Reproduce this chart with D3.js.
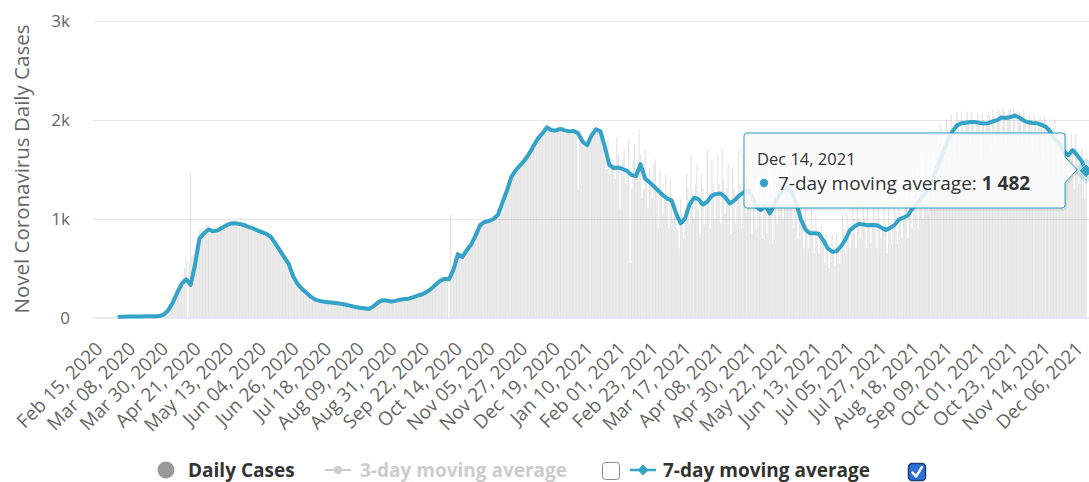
<!DOCTYPE html>
<html><head><meta charset="utf-8">
<script src="https://cdn.jsdelivr.net/npm/d3@7"></script>
<style>
body{margin:0;background:#fff;}
svg{display:block;font-family:"Open Sans",sans-serif;}
</style>
</head><body>
<svg id="chart" width="1089" height="482"></svg>
<script>
// ---------------- DATA ----------------
const dailyStart = "2020-02-15";
const dailyCases = [
0,0,0,0,0,0,0,
0,0,0,0,0,1,0,
2,5,8,10,12,9,11,
8,10,12,9,11,14,10,
11,9,12,14,10,13,12,
10,14,12,11,15,13,12,
12,16,14,18,35,48,60,
70,95,130,160,200,220,250,
240,300,350,330,420,500,600,
0,560,1470,620,640,700,760,
820,880,900,860,850,900,940,
860,840,900,880,920,870,890,
900,950,910,940,960,900,930,
960,940,980,950,930,970,950,
940,920,950,930,960,910,925,
900,880,910,870,890,860,880,
860,840,850,830,850,810,820,
790,760,740,720,700,690,660,
640,620,590,560,540,510,480,
440,400,370,340,330,310,300,
280,260,250,230,220,210,200,
190,180,175,170,165,170,160,
165,150,160,155,150,158,148,
150,140,145,138,142,135,140,
130,125,120,115,118,110,112,
108,102,98,95,100,92,96,
90,88,85,82,95,120,140,
150,165,180,190,175,170,185,
170,165,160,175,158,170,162,
172,180,185,178,190,185,192,
190,195,205,200,210,215,220,
225,230,240,235,250,255,265,
270,280,295,310,320,340,350,
360,375,390,400,395,410,405,
380,0,1050,470,500,560,600,
620,640,650,660,680,700,690,
720,740,780,800,830,860,880,
920,940,960,980,970,960,990,
980,1000,1010,990,1020,1040,1080,
1120,1170,1220,1260,1300,1340,1380,
1400,1430,1450,1480,1500,1510,1530,
1540,1560,1590,1620,1640,1660,1680,
1700,1740,1770,1800,1830,1850,1870,
1880,1900,1930,1920,1950,1910,1890,
1870,1900,1920,1880,1910,1890,1900,
1910,1880,1860,1900,1880,1870,1890,
1880,1870,1890,1860,1290,1800,1820,
1750,1720,1700,1740,1760,1850,1900,
1880,1920,1900,1950,1880,1850,1800,
1700,1600,1500,1800,1450,1520,1600,
1550,1400,1820,1650,1100,1480,1600,
1700,1350,1500,1800,550,1300,1600,
1750,1500,1400,1900,1650,1200,1300,
1700,1450,1100,1500,1350,1200,1550,
1600,1300,900,1500,1250,1050,1200,
1450,1200,900,1400,1250,1000,1150,
1150,900,700,1200,1050,800,1100,
1450,1300,950,1650,1250,1000,1350,
1550,1100,850,1450,1300,950,1200,
1700,1250,900,1600,1350,1000,1250,
1650,1350,950,1700,1400,1050,1300,
1550,1200,850,1500,1300,950,1250,
1700,1350,900,1650,1400,1050,1300,
1600,1300,850,1450,1200,900,1150,
1450,1150,800,1400,1150,850,1100,
1350,1100,750,1550,1300,950,1250,
1650,1450,1000,1700,1450,1100,1350,
1550,1300,900,1400,1100,800,1050,
1150,950,700,1100,900,700,850,
1100,900,650,1050,900,650,800,
950,800,550,850,700,500,650,
850,720,520,850,700,550,700,
1050,900,650,1050,850,700,850,
1150,1000,700,1200,1000,800,950,
1200,1000,700,1150,950,750,950,
1150,950,700,1150,950,800,900,
1100,950,650,1150,950,750,950,
1250,1050,750,1250,1000,800,1000,
1350,1150,800,1350,1100,900,1100,
1500,1300,900,1500,1250,1000,1250,
1650,1450,1050,1700,1450,1150,1400,
1900,1700,1300,1950,1700,1400,1650,
2000,1900,1500,2050,1900,1650,1880,
2080,2000,1600,2080,2000,1700,1980,
2080,2000,1600,2080,2000,1750,1980,
2060,2000,1600,2060,2000,1700,1950,
2080,2050,1650,2100,2050,1750,2000,
2100,2080,1700,2120,2080,1750,2050,
2100,2100,1700,2120,2080,1800,2050,
2080,2050,1650,2100,2030,1750,2000,
2060,2000,1650,2050,2000,1700,1950,
2020,1980,1600,2040,1970,1650,1900,
1950,1850,1450,2000,1850,1550,1800,
1850,1700,1300,1900,1700,1400,1650,
1850,1700,1300,1850,1700,1350,1600,
1700,1550,1200,1400
];

const avgStart = "2020-03-03";
const avgStepDays = 3;
const avg7 = [
8,8,9,10,10,11,12,12,13,15,
30,75,150,250,340,385,330,530,800,850,
890,870,880,905,930,950,952,945,932,915,
900,880,862,845,815,750,680,610,545,420,
340,290,250,210,180,168,160,155,150,143,
137,128,117,106,98,93,86,110,150,175,
172,162,168,180,187,190,205,222,235,258,
290,330,370,392,385,480,640,610,680,740,
830,933,965,975,995,1040,1160,1280,1420,1490,
1540,1590,1655,1735,1810,1860,1920,1892,1890,1905,
1890,1880,1885,1860,1775,1740,1840,1900,1880,1720,
1540,1510,1515,1500,1480,1438,1430,1550,1405,1365,
1325,1280,1235,1200,1180,1050,950,1000,1140,1210,
1195,1140,1170,1230,1248,1253,1215,1152,1180,1225,
1260,1285,1230,1118,1085,1130,1050,1135,1230,1300,
1315,1260,1150,990,890,850,850,845,782,700,
664,670,720,790,883,920,945,940,932,935,
933,910,883,905,933,990,1010,1030,1100,1150,
1200,1260,1320,1450,1560,1680,1790,1880,1940,1962,
1968,1975,1975,1966,1960,1962,1980,1993,2020,2015,
2025,2040,2020,1990,1972,1965,1962,1945,1925,1875,
1800,1757,1680,1640,1690,1640,1580,1482
];

const yTickValues = [0, 1000, 2000, 3000];
const xTickFirst = "2020-02-15";
const xTickStepDays = 22;
const xTickCount = 31;
const yAxisTitle = "Novel Coronavirus Daily Cases";
const legendLabels = ["Daily Cases", "3-day moving average", "7-day moving average"];
const seriesName = "7-day moving average";

// ---------------- SETUP ----------------
const svg = d3.select("#chart");
const blue = "#34a3c8";
const parse = d3.utcParse("%Y-%m-%d");
const day = 864e5;

const plotLeft = 93, plotRight = 1089;
const x = d3.scaleUtc()
  .domain([new Date(Date.UTC(2020,1,14,12)), new Date(Date.UTC(2021,11,15,12))])
  .range([93.3, 1088.3]);
const y = d3.scaleLinear().domain([0, 3000]).range([317.5, 20.5]);

// grid
const grid = svg.append("g");
grid.selectAll("line").data(yTickValues.filter(v => v > 0)).join("line")
  .attr("x1", plotLeft).attr("x2", plotRight)
  .attr("y1", d => Math.round(y(d)) + 0.5).attr("y2", d => Math.round(y(d)) + 0.5)
  .attr("stroke", "#e6e6e6").attr("stroke-width", 1);

// y axis labels
const kfmt = v => v === 0 ? "0" : (v / 1000) + "k";
const yAxis = d3.axisLeft(y).tickValues(yTickValues).tickFormat(kfmt).tickSize(0).tickPadding(0);
const yg = svg.append("g").attr("transform", "translate(70,0)").call(yAxis);
yg.select(".domain").remove();
yg.selectAll("text").attr("fill", "#666").style("font-size", "17px")
  .style("font-family", '"Open Sans",sans-serif').attr("dy", "0.35em");

// y title
svg.append("text")
  .attr("transform", "translate(28.5,169) rotate(-90)")
  .attr("text-anchor", "middle")
  .attr("fill", "#666").style("font-size", "20.5px")
  .text(yAxisTitle);

// bars
const d0 = parse(dailyStart);
const barData = dailyCases.map((v, i) => ({date: new Date(+d0 + i * day), v}));
const bw = 1.3;
svg.append("g").selectAll("rect").data(barData).join("rect")
  .attr("x", d => x(d.date) - bw / 2)
  .attr("width", bw)
  .attr("y", d => y(d.v))
  .attr("height", d => y(0) - y(d.v))
  .attr("fill", "rgba(0,0,0,0.1)");

// x axis line
svg.append("line").attr("x1", plotLeft).attr("x2", plotRight)
  .attr("y1", 318).attr("y2", 318).attr("stroke", "#ccd6eb").attr("stroke-width", 1);

// x labels
const t0 = parse(xTickFirst);
const xTicks = d3.range(xTickCount).map(i => new Date(+t0 + i * xTickStepDays * day));
const xfmt = d3.utcFormat("%b %d, %Y");
const xAxis = d3.axisBottom(x).tickValues(xTicks).tickFormat(xfmt).tickSize(0).tickPadding(0);
const xg = svg.append("g").call(xAxis);
xg.select(".domain").remove();
xg.selectAll(".tick").attr("transform", d => `translate(${x(d) + 10},350)`);
xg.selectAll("text")
  .attr("y", 0).attr("dy", 0).attr("x", 0)
  .attr("transform", "rotate(-45)")
  .attr("text-anchor", "end")
  .attr("fill", "#666").style("font-size", "19px")
  .style("font-family", '"Open Sans",sans-serif');

// 7-day line
const a0 = parse(avgStart);
const avgData = avg7.map((v, i) => ({date: new Date(+a0 + i * avgStepDays * day), v}));
svg.append("path").datum(avgData)
  .attr("fill", "none").attr("stroke", blue).attr("stroke-width", 4)
  .attr("stroke-linejoin", "round").attr("stroke-linecap", "round")
  .attr("d", d3.line().x(d => x(d.date)).y(d => y(d.v)));

// hover marker on the last point
const last = avgData[avgData.length - 1];
const mx = x(last.date), my = y(last.v);
const diamond = s => `M${mx},${my - s}L${mx + s},${my}L${mx},${my + s}L${mx - s},${my}Z`;
svg.append("path").attr("d", diamond(13)).attr("fill", blue).attr("fill-opacity", 0.25);
svg.append("path").attr("d", diamond(7)).attr("fill", blue).attr("stroke", "#fff").attr("stroke-width", 1);

// tooltip
const tb = {l: 744, r: 1065, t: 133, b: 208, rad: 3};
const tipX = 1077, tipY = my - 1;
const tpath = `M${tb.l + tb.rad},${tb.t}H${tb.r - tb.rad}Q${tb.r},${tb.t} ${tb.r},${tb.t + tb.rad}` +
  `V${tipY - 13}L${tipX},${tipY}L${tb.r},${tipY + 13}` +
  `V${tb.b - tb.rad}Q${tb.r},${tb.b} ${tb.r - tb.rad},${tb.b}H${tb.l + tb.rad}Q${tb.l},${tb.b} ${tb.l},${tb.b - tb.rad}` +
  `V${tb.t + tb.rad}Q${tb.l},${tb.t} ${tb.l + tb.rad},${tb.t}Z`;
svg.append("path").attr("d", tpath).attr("transform", "translate(1,1)")
  .attr("fill", "none").attr("stroke", "rgba(0,0,0,0.08)").attr("stroke-width", 3);
svg.append("path").attr("d", tpath)
  .attr("fill", "rgba(250,250,250,0.88)").attr("stroke", blue).attr("stroke-width", 1);
svg.append("text").attr("x", 757).attr("y", 165).attr("fill", "#333")
  .style("font-size", "16.5px").text(xfmt(last.date));
svg.append("circle").attr("cx", 764).attr("cy", 183).attr("r", 4.2).attr("fill", blue);
const locale = d3.formatLocale({decimal: ".", thousands: " ", grouping: [3], currency: ["", ""]});
const tt = svg.append("text").attr("x", 778).attr("y", 190).attr("fill", "#333").style("font-size", "19px");
tt.append("tspan").text(seriesName + ": ");
tt.append("tspan").style("font-weight", "bold").text(locale.format(",")(last.v));

// legend
const lg = svg.append("g").style("font-size", "19px").style("font-weight", "bold");
const ly = 470;
lg.append("circle").attr("cx", 166).attr("cy", ly).attr("r", 8.5).attr("fill", "#999");
lg.append("text").attr("x", 188).attr("y", ly + 6.5).attr("fill", "#333").text(legendLabels[0]);
lg.append("line").attr("x1", 325).attr("x2", 351).attr("y1", ly).attr("y2", ly).attr("stroke", "#ccc").attr("stroke-width", 2);
lg.append("circle").attr("cx", 338).attr("cy", ly).attr("r", 4).attr("fill", "#ccc");
lg.append("text").attr("x", 360).attr("y", ly + 6.5).attr("fill", "#ccc").text(legendLabels[1]);
lg.append("rect").attr("x", 602.5).attr("y", 462.5).attr("width", 17).attr("height", 17).attr("rx", 3)
  .attr("fill", "#fff").attr("stroke", "#8a8a8a").attr("stroke-width", 1);
lg.append("line").attr("x1", 630).attr("x2", 656).attr("y1", ly).attr("y2", ly).attr("stroke", blue).attr("stroke-width", 2.5);
const dx = 643, ds = 5.5;
lg.append("path").attr("d", `M${dx},${ly - ds}L${dx + ds},${ly}L${dx},${ly + ds}L${dx - ds},${ly}Z`).attr("fill", blue);
lg.append("text").attr("x", 663).attr("y", ly + 6.5).attr("fill", "#333").text(legendLabels[2]);
lg.append("rect").attr("x", 908.5).attr("y", 463.5).attr("width", 17).attr("height", 17).attr("rx", 3.5)
  .attr("fill", "#2b6fd8").attr("stroke", "#1c3d78").attr("stroke-width", 1.5);
lg.append("path").attr("d", "M912.5,472.5L916,476.5L922,467")
  .attr("fill", "none").attr("stroke", "#fff").attr("stroke-width", 2.4).attr("stroke-linecap", "round").attr("stroke-linejoin", "round");
</script>
</body></html>
